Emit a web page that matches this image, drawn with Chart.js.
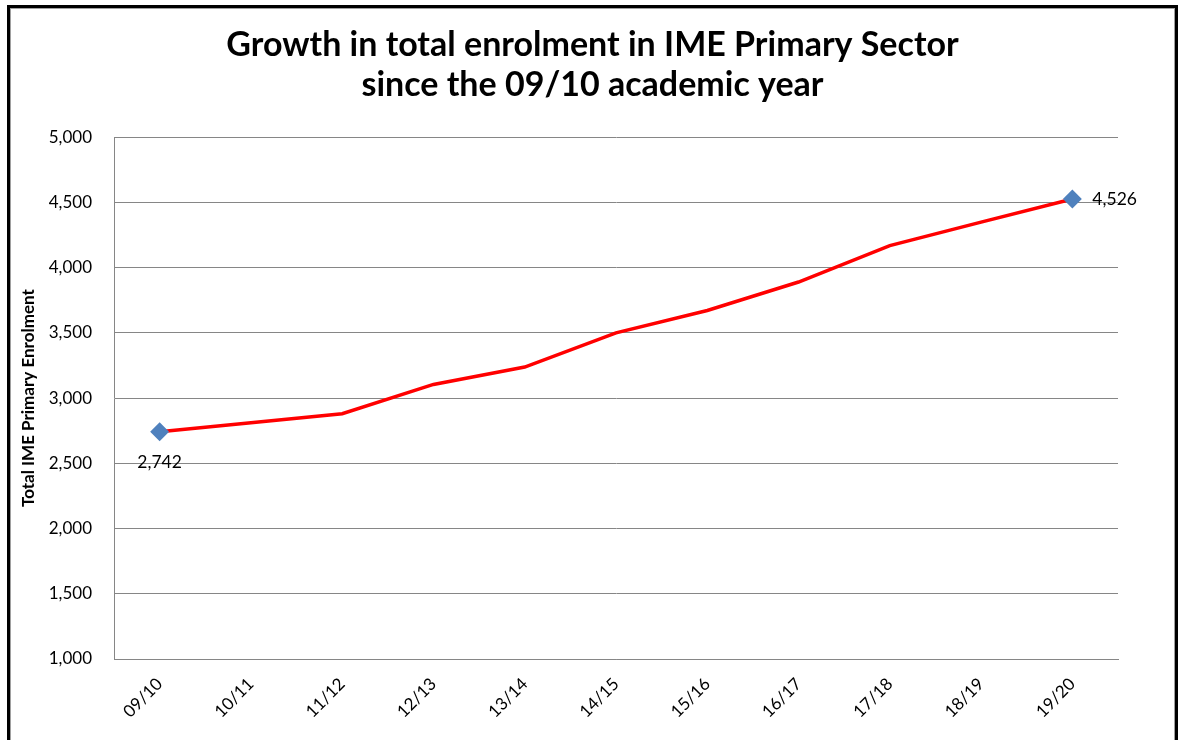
<!DOCTYPE html>
<html>
<head>
<meta charset="utf-8">
<script src="https://cdn.jsdelivr.net/npm/chart.js@4.4.1/dist/chart.umd.min.js"></script>
<style>
  html, body { margin: 0; padding: 0; background: #fff; }
  #wrap { position: relative; width: 1181px; height: 740px; overflow: hidden; }
  #frame { position: absolute; left: 7px; top: 5px; width: 1171px; height: 800px;
           border: 3px solid #000; box-sizing: border-box; pointer-events: none;
           box-shadow: inset 0 0 0 1px #a0a0a0; }
  canvas { position: absolute; left: 0; top: 0; }
</style>
</head>
<body>
<div id="wrap">
  <canvas id="chart" width="1181" height="740"></canvas>
  <div id="frame"></div>
</div>
<script>
'use strict';

const years = ['09/10', '10/11', '11/12', '12/13', '13/14', '14/15', '15/16', '16/17', '17/18', '18/19', '19/20'];
const enrolment = [2742, 2812, 2880, 3105, 3238, 3500, 3672, 3890, 4169, 4349, 4526];
const titleLines = ['Growth in total enrolment in IME Primary Sector', 'since the 09/10 academic year'];
const yTitle = 'Total IME Primary Enrolment';
const fontFamily = 'Lato, "Open Sans", sans-serif';

const fmt = function (v) {
    return Number(v).toLocaleString('en-US');
};

// labels only at the first and last point, like the original
const endLabels = {
    id: 'endLabels',
    afterDatasetsDraw: function (chart) {
        const ctx = chart.ctx;
        const meta = chart.getDatasetMeta(0);
        const last = meta.data.length - 1;

        ctx.save();
        ctx.font = '17.5px ' + fontFamily;
        ctx.fillStyle = '#000';
        ctx.textBaseline = 'middle';

        const first = meta.data[0];
        ctx.textAlign = 'center';
        ctx.fillText(fmt(enrolment[0]), first.x, first.y + 31);

        const end = meta.data[last];
        ctx.textAlign = 'left';
        ctx.fillText(fmt(enrolment[last]), end.x + 20, end.y);
        ctx.restore();
    }
};

new Chart(document.getElementById('chart'), {
    type: 'line',
    data: {
        labels: years,
        datasets: [{
            data: enrolment,
            borderColor: '#ff0000',
            borderWidth: 3.5,
            tension: 0,
            pointStyle: 'rectRot',
            pointBackgroundColor: '#4f81bd',
            pointBorderColor: '#4f81bd',
            pointRadius: function (c) {
                return (c.dataIndex === 0 || c.dataIndex === enrolment.length - 1) ? 7 : 0;
            }
        }]
    },
    options: {
        responsive: false,
        animation: false,
        devicePixelRatio: 1,
        layout: {
            padding: {left: 12, right: 8, top: 23, bottom: 0}
        },
        plugins: {
            legend: {display: false},
            tooltip: {enabled: false},
            title: {
                display: true,
                text: titleLines,
                color: '#000',
                font: {family: fontFamily, size: 34, weight: 'bold', lineHeight: 1.18},
                padding: {top: 2, bottom: 32}
            }
        },
        scales: {
            x: {
                offset: true,
                grid: {display: false, drawTicks: false},
                border: {color: '#868686'},
                ticks: {
                    color: '#000',
                    font: {family: fontFamily, size: 17},
                    minRotation: 45,
                    maxRotation: 45,
                    padding: 15
                },
                afterFit: function (scale) {
                    scale.height = 81;
                }
            },
            y: {
                min: 1000,
                max: 5000,
                grid: {color: '#868686', drawTicks: false},
                border: {color: '#868686'},
                ticks: {
                    stepSize: 500,
                    color: '#000',
                    font: {family: fontFamily, size: 17},
                    padding: 22,
                    callback: function (v) {
                        return fmt(v);
                    }
                },
                title: {
                    display: true,
                    text: yTitle,
                    color: '#000',
                    font: {family: fontFamily, size: 17, weight: 'bold'},
                    padding: {top: 6, bottom: 0}
                },
                afterFit: function (scale) {
                    scale.width = 102;
                }
            },
            // empty right axis, only keeps room for the end label
            yRight: {
                position: 'right',
                display: true,
                grid: {display: false, drawTicks: false},
                border: {display: false},
                ticks: {display: false},
                afterFit: function (scale) {
                    scale.width = 55;
                }
            }
        }
    },
    plugins: [endLabels]
});
</script>
</body>
</html>
